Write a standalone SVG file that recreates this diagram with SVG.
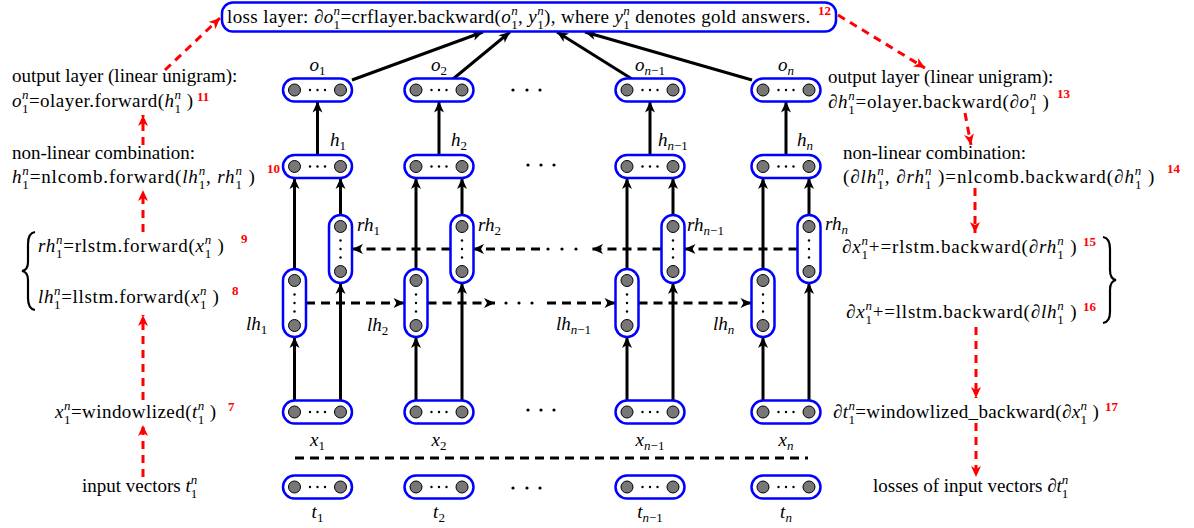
<svg xmlns="http://www.w3.org/2000/svg" xmlns:xlink="http://www.w3.org/1999/xlink" width="1194" height="528" viewBox="0 0 1194 528">
<style>
.box{fill:#fff;stroke:#0000ff;stroke-width:2.5}
.dot{fill:#777;stroke:#000;stroke-width:1}
.md{fill:#000}
.sol{fill:none;stroke:#000;stroke-width:3}
.dsh{fill:none;stroke:#000;stroke-width:3;stroke-dasharray:9 6}
.rd{fill:none;stroke:#f00;stroke-width:3;stroke-dasharray:8 6}
.tx{font-family:"Liberation Serif","Times New Roman",serif;font-size:19px;fill:#000}
.lbl{font-family:"Liberation Serif","Times New Roman",serif;font-size:19px;font-style:italic;fill:#000}
.i{font-style:italic}
.u{font-style:normal}
.s{font-size:13px}
.num{font-family:"Liberation Serif","Times New Roman",serif;font-weight:bold;font-size:13px;fill:#f00}
.br{fill:none;stroke:#000;stroke-width:2.2}
</style>
<defs>
<marker id="ab" markerUnits="userSpaceOnUse" markerWidth="14" markerHeight="12" viewBox="-12 -6 13 12" refX="0" refY="0" orient="auto"><path d="M0,0 L-11,-5 L-8,0 L-11,5 Z" fill="#000"/></marker>
<marker id="ar" markerUnits="userSpaceOnUse" markerWidth="14" markerHeight="12" viewBox="-12 -6 13 12" refX="0" refY="0" orient="auto"><path d="M0,0 L-11,-5 L-8,0 L-11,5 Z" fill="#f00"/></marker>
<g id="hn"><rect class="box" x="-34.5" y="-11.5" width="69" height="23" rx="11.5"/><circle class="dot" cx="-23" cy="0" r="6"/><circle class="dot" cx="23" cy="0" r="6"/><circle class="md" cx="-7.5" cy="0" r="1.2"/><circle class="md" cx="0" cy="0" r="1.2"/><circle class="md" cx="7.5" cy="0" r="1.2"/></g>
<g id="vn"><rect class="box" x="-11.5" y="-34" width="23" height="68" rx="11.5"/><circle class="dot" cx="0" cy="-22.5" r="6"/><circle class="dot" cx="0" cy="22.5" r="6"/><circle class="md" cx="0" cy="-8.5" r="1.2"/><circle class="md" cx="0" cy="0" r="1.2"/><circle class="md" cx="0" cy="8.5" r="1.2"/></g>
</defs>
<rect width="1194" height="528" fill="#fff"/>

<g id="connectors">
<path class="sol" d="M352,80 L483,32" marker-end="url(#ab)"/>
<path class="sol" d="M453,79 L510,32" marker-end="url(#ab)"/>
<path class="sol" d="M632,79 L557,32" marker-end="url(#ab)"/>
<path class="sol" d="M752,80 L585,32" marker-end="url(#ab)"/>
<path class="sol" d="M317.5,155 L317.5,101.5" marker-end="url(#ab)"/>
<path class="sol" d="M439,155 L439,101.5" marker-end="url(#ab)"/>
<path class="sol" d="M650,155 L650,101.5" marker-end="url(#ab)"/>
<path class="sol" d="M786,155 L786,101.5" marker-end="url(#ab)"/>
<path class="sol" d="M294.5,269 L294.5,178" marker-end="url(#ab)"/>
<path class="sol" d="M340.5,215 L340.5,178" marker-end="url(#ab)"/>
<path class="sol" d="M416,269 L416,178" marker-end="url(#ab)"/>
<path class="sol" d="M462,215 L462,178" marker-end="url(#ab)"/>
<path class="sol" d="M627,269 L627,178" marker-end="url(#ab)"/>
<path class="sol" d="M673,215 L673,178" marker-end="url(#ab)"/>
<path class="sol" d="M763,269 L763,178" marker-end="url(#ab)"/>
<path class="sol" d="M809,215 L809,178" marker-end="url(#ab)"/>
<path class="sol" d="M294.5,400.5 L294.5,337" marker-end="url(#ab)"/>
<path class="sol" d="M340.5,400.5 L340.5,283" marker-end="url(#ab)"/>
<path class="sol" d="M416,400.5 L416,337" marker-end="url(#ab)"/>
<path class="sol" d="M462,400.5 L462,283" marker-end="url(#ab)"/>
<path class="sol" d="M627,400.5 L627,337" marker-end="url(#ab)"/>
<path class="sol" d="M673,400.5 L673,283" marker-end="url(#ab)"/>
<path class="sol" d="M763,400.5 L763,337" marker-end="url(#ab)"/>
<path class="sol" d="M809,400.5 L809,283" marker-end="url(#ab)"/>
<path class="dsh" d="M450.5,249 L352,249" marker-end="url(#ab)"/>
<path class="dsh" d="M540,249 L473,249" marker-end="url(#ab)"/>
<path class="dsh" d="M661.5,249 L592,249" marker-end="url(#ab)"/>
<path class="dsh" d="M797.5,249 L684.5,249" marker-end="url(#ab)"/>
<circle class="md" cx="548" cy="249" r="1.6"/><circle class="md" cx="562" cy="249" r="1.6"/><circle class="md" cx="576" cy="249" r="1.6"/>
<path class="dsh" d="M306,303 L404.5,303" marker-end="url(#ab)"/>
<path class="dsh" d="M427.5,303 L495,303" marker-end="url(#ab)"/>
<path class="dsh" d="M547,303 L615.5,303" marker-end="url(#ab)"/>
<path class="dsh" d="M638.5,303 L751.5,303" marker-end="url(#ab)"/>
<circle class="md" cx="506" cy="303" r="1.6"/><circle class="md" cx="519" cy="303" r="1.6"/><circle class="md" cx="532" cy="303" r="1.6"/>
<path class="dsh" d="M295,458 L808,458"/>
<path class="rd" d="M143,477 L143,425" marker-end="url(#ar)"/>
<path class="rd" d="M143,400 L143,315" marker-end="url(#ar)"/>
<path class="rd" d="M143,232 L143,190" marker-end="url(#ar)"/>
<path class="rd" d="M143,145 L143,115" marker-end="url(#ar)"/>
<path class="rd" d="M165,70 L220,18" marker-end="url(#ar)"/>
<path class="rd" d="M838,15 L925,68" marker-end="url(#ar)"/>
<path class="rd" d="M965,113 L971,145" marker-end="url(#ar)"/>
<path class="rd" d="M975,188 L975,233" marker-end="url(#ar)"/>
<path class="rd" d="M976,327 L976,398" marker-end="url(#ar)"/>
<path class="rd" d="M976,423 L976,477" marker-end="url(#ar)"/>
</g>

<g id="loss">
<rect class="box" x="222" y="2.5" width="614" height="29" rx="11"/>
<text class="tx" x="227" y="23" style="letter-spacing:0.38px">loss layer: <tspan class="i">∂o</tspan><tspan class="s" dy="5.5">1</tspan><tspan class="s i" dx="-6.9" dy="-13.5">n</tspan><tspan dy="8">=crflayer.backward(</tspan><tspan class="i">o</tspan><tspan class="s" dy="5.5">1</tspan><tspan class="s i" dx="-6.9" dy="-13.5">n</tspan><tspan dy="8">, </tspan><tspan class="i">y</tspan><tspan class="s" dy="5.5">1</tspan><tspan class="s i" dx="-6.9" dy="-13.5">n</tspan><tspan dy="8">), where </tspan><tspan class="i">y</tspan><tspan class="s" dy="5.5">1</tspan><tspan class="s i" dx="-6.9" dy="-13.5">n</tspan><tspan dy="8"> denotes gold answers.</tspan></text>
<text class="num" x="818" y="15">12</text>
</g>

<g id="row-o">
<g id="o1"><use xlink:href="#hn" href="#hn" x="317.5" y="90"/><text class="lbl" x="317.5" y="71" text-anchor="middle">o<tspan class="s u" dy="4">1</tspan></text></g>
<g id="o2"><use xlink:href="#hn" href="#hn" x="439" y="90"/><text class="lbl" x="439" y="71" text-anchor="middle">o<tspan class="s u" dy="4">2</tspan></text></g>
<g id="on1"><use xlink:href="#hn" href="#hn" x="650" y="90"/><text class="lbl" x="650" y="71" text-anchor="middle">o<tspan class="s" dy="4">n</tspan><tspan class="s u">−1</tspan></text></g>
<g id="on"><use xlink:href="#hn" href="#hn" x="786" y="90"/><text class="lbl" x="786" y="71" text-anchor="middle">o<tspan class="s" dy="4">n</tspan></text></g>
<circle class="md" cx="513" cy="90" r="1.6"/><circle class="md" cx="527" cy="90" r="1.6"/><circle class="md" cx="540" cy="90" r="1.6"/>
</g>

<g id="row-h">
<g id="h1"><use xlink:href="#hn" href="#hn" x="317.5" y="166.5"/><text class="lbl" x="330" y="146">h<tspan class="s u" dy="4">1</tspan></text></g>
<g id="h2"><use xlink:href="#hn" href="#hn" x="439" y="166.5"/><text class="lbl" x="451" y="146">h<tspan class="s u" dy="4">2</tspan></text></g>
<g id="hn1"><use xlink:href="#hn" href="#hn" x="650" y="166.5"/><text class="lbl" x="658" y="146">h<tspan class="s" dy="4">n</tspan><tspan class="s u">−1</tspan></text></g>
<g id="hnn"><use xlink:href="#hn" href="#hn" x="786" y="166.5"/><text class="lbl" x="797" y="146">h<tspan class="s" dy="4">n</tspan></text></g>
<circle class="md" cx="528" cy="165" r="1.6"/><circle class="md" cx="541" cy="165" r="1.6"/><circle class="md" cx="554" cy="165" r="1.6"/>
</g>

<g id="row-rh">
<g id="rh1"><use xlink:href="#vn" href="#vn" x="340.5" y="249"/><text class="lbl" x="357" y="231">rh<tspan class="s u" dy="4">1</tspan></text></g>
<g id="rh2"><use xlink:href="#vn" href="#vn" x="462" y="249"/><text class="lbl" x="478" y="231">rh<tspan class="s u" dy="4">2</tspan></text></g>
<g id="rhn1"><use xlink:href="#vn" href="#vn" x="673" y="249"/><text class="lbl" x="687" y="231">rh<tspan class="s" dy="4">n</tspan><tspan class="s u">−1</tspan></text></g>
<g id="rhn"><use xlink:href="#vn" href="#vn" x="809" y="249"/><text class="lbl" x="825" y="230">rh<tspan class="s" dy="4">n</tspan></text></g>
</g>

<g id="row-lh">
<g id="lh1"><use xlink:href="#vn" href="#vn" x="294.5" y="303"/><text class="lbl" x="246" y="330">lh<tspan class="s u" dy="4">1</tspan></text></g>
<g id="lh2"><use xlink:href="#vn" href="#vn" x="416" y="303"/><text class="lbl" x="367" y="331">lh<tspan class="s u" dy="4">2</tspan></text></g>
<g id="lhn1"><use xlink:href="#vn" href="#vn" x="627" y="303"/><text class="lbl" x="556" y="330">lh<tspan class="s" dy="4">n</tspan><tspan class="s u">−1</tspan></text></g>
<g id="lhn"><use xlink:href="#vn" href="#vn" x="763" y="303"/><text class="lbl" x="713" y="330">lh<tspan class="s" dy="4">n</tspan></text></g>
</g>

<g id="row-x">
<g id="x1"><use xlink:href="#hn" href="#hn" x="317.5" y="412"/><text class="lbl" x="317.5" y="446" text-anchor="middle">x<tspan class="s u" dy="4">1</tspan></text></g>
<g id="x2"><use xlink:href="#hn" href="#hn" x="439" y="412"/><text class="lbl" x="439" y="446" text-anchor="middle">x<tspan class="s u" dy="4">2</tspan></text></g>
<g id="xn1"><use xlink:href="#hn" href="#hn" x="650" y="412"/><text class="lbl" x="650" y="446" text-anchor="middle">x<tspan class="s" dy="4">n</tspan><tspan class="s u">−1</tspan></text></g>
<g id="xn"><use xlink:href="#hn" href="#hn" x="786" y="412"/><text class="lbl" x="786" y="446" text-anchor="middle">x<tspan class="s" dy="4">n</tspan></text></g>
<circle class="md" cx="528" cy="410" r="1.6"/><circle class="md" cx="541" cy="410" r="1.6"/><circle class="md" cx="554" cy="410" r="1.6"/>
</g>

<g id="row-t">
<g id="t1"><use xlink:href="#hn" href="#hn" x="317.5" y="487"/><text class="lbl" x="317.5" y="518" text-anchor="middle">t<tspan class="s u" dy="4">1</tspan></text></g>
<g id="t2"><use xlink:href="#hn" href="#hn" x="439" y="487"/><text class="lbl" x="439" y="518" text-anchor="middle">t<tspan class="s u" dy="4">2</tspan></text></g>
<g id="tn1"><use xlink:href="#hn" href="#hn" x="650" y="487"/><text class="lbl" x="650" y="518" text-anchor="middle">t<tspan class="s" dy="4">n</tspan><tspan class="s u">−1</tspan></text></g>
<g id="tn"><use xlink:href="#hn" href="#hn" x="786" y="487"/><text class="lbl" x="786" y="518" text-anchor="middle">t<tspan class="s" dy="4">n</tspan></text></g>
<circle class="md" cx="513" cy="488" r="1.6"/><circle class="md" cx="527" cy="488" r="1.6"/><circle class="md" cx="540" cy="488" r="1.6"/>
</g>

<g id="forward-steps">
<text class="tx" x="12" y="82">output layer (linear unigram):</text>
<text class="tx" x="12" y="107" style="letter-spacing:0.45px"><tspan class="i">o</tspan><tspan class="s" dy="5.5">1</tspan><tspan class="s i" dx="-6.9" dy="-13.5">n</tspan><tspan dy="8">=olayer.forward(</tspan><tspan class="i">h</tspan><tspan class="s" dy="5.5">1</tspan><tspan class="s i" dx="-6.9" dy="-13.5">n</tspan><tspan dy="8"> )</tspan></text>
<text class="num" x="197" y="101">11</text>
<text class="tx" x="12" y="159">non-linear combination:</text>
<text class="tx" x="12" y="183" style="letter-spacing:0.85px"><tspan class="i">h</tspan><tspan class="s" dy="5.5">1</tspan><tspan class="s i" dx="-7.4" dy="-13.5">n</tspan><tspan dy="8">=nlcomb.forward(</tspan><tspan class="i">lh</tspan><tspan class="s" dy="5.5">1</tspan><tspan class="s i" dx="-7.4" dy="-13.5">n</tspan><tspan dy="8">, </tspan><tspan class="i">rh</tspan><tspan class="s" dy="5.5">1</tspan><tspan class="s i" dx="-7.4" dy="-13.5">n</tspan><tspan dy="8"> )</tspan></text>
<text class="num" x="267" y="173">10</text>
<path class="br" d="M35,232 Q28,233 28,244 L28,262 Q28,270 22,271 Q28,272 28,280 L28,298 Q28,309 35,310"/>
<text class="tx" x="38" y="252" style="letter-spacing:0.75px"><tspan class="i">rh</tspan><tspan class="s" dy="5.5">1</tspan><tspan class="s i" dx="-7.3" dy="-13.5">n</tspan><tspan dy="8">=rlstm.forward(</tspan><tspan class="i">x</tspan><tspan class="s" dy="5.5">1</tspan><tspan class="s i" dx="-7.3" dy="-13.5">n</tspan><tspan dy="8"> )</tspan></text>
<text class="num" x="241" y="243">9</text>
<text class="tx" x="38" y="303" style="letter-spacing:0.65px"><tspan class="i">lh</tspan><tspan class="s" dy="5.5">1</tspan><tspan class="s i" dx="-7.2" dy="-13.5">n</tspan><tspan dy="8">=llstm.forward(</tspan><tspan class="i">x</tspan><tspan class="s" dy="5.5">1</tspan><tspan class="s i" dx="-7.2" dy="-13.5">n</tspan><tspan dy="8"> )</tspan></text>
<text class="num" x="232" y="295">8</text>
<text class="tx" x="55" y="418" style="letter-spacing:0.45px"><tspan class="i">x</tspan><tspan class="s" dy="5.5">1</tspan><tspan class="s i" dx="-6.9" dy="-13.5">n</tspan><tspan dy="8">=windowlized(</tspan><tspan class="i">t</tspan><tspan class="s" dy="5.5">1</tspan><tspan class="s i" dx="-6.9" dy="-13.5">n</tspan><tspan dy="8"> )</tspan></text>
<text class="num" x="228" y="411">7</text>
<text class="tx" x="82" y="492">input vectors <tspan class="i">t</tspan><tspan class="s" dy="5.5">1</tspan><tspan class="s i" dx="-6.5" dy="-13.5">n</tspan></text>
</g>

<g id="backward-steps">
<text class="tx" x="828" y="83">output layer (linear unigram):</text>
<text class="tx" x="828" y="108" style="letter-spacing:0.7px"><tspan class="i">∂h</tspan><tspan class="s" dy="5.5">1</tspan><tspan class="s i" dx="-7.2" dy="-13.5">n</tspan><tspan dy="8">=olayer.backward(</tspan><tspan class="i">∂o</tspan><tspan class="s" dy="5.5">1</tspan><tspan class="s i" dx="-7.2" dy="-13.5">n</tspan><tspan dy="8"> )</tspan></text>
<text class="num" x="1057" y="98">13</text>
<text class="tx" x="843" y="159">non-linear combination:</text>
<text class="tx" x="843" y="183" style="letter-spacing:0.95px">(<tspan class="i">∂lh</tspan><tspan class="s" dy="5.5">1</tspan><tspan class="s i" dx="-7.5" dy="-13.5">n</tspan><tspan dy="8">, </tspan><tspan class="i">∂rh</tspan><tspan class="s" dy="5.5">1</tspan><tspan class="s i" dx="-7.5" dy="-13.5">n</tspan><tspan dy="8"> )=nlcomb.backward(</tspan><tspan class="i">∂h</tspan><tspan class="s" dy="5.5">1</tspan><tspan class="s i" dx="-7.5" dy="-13.5">n</tspan><tspan dy="8"> )</tspan></text>
<text class="num" x="1167" y="173">14</text>
<text class="tx" x="842" y="253" style="letter-spacing:0.85px"><tspan class="i">∂x</tspan><tspan class="s" dy="5.5">1</tspan><tspan class="s i" dx="-7.4" dy="-13.5">n</tspan><tspan dy="8">+=rlstm.backward(</tspan><tspan class="i">∂rh</tspan><tspan class="s" dy="5.5">1</tspan><tspan class="s i" dx="-7.4" dy="-13.5">n</tspan><tspan dy="8"> )</tspan></text>
<text class="num" x="1083" y="246">15</text>
<text class="tx" x="846" y="318" style="letter-spacing:0.8px"><tspan class="i">∂x</tspan><tspan class="s" dy="5.5">1</tspan><tspan class="s i" dx="-7.3" dy="-13.5">n</tspan><tspan dy="8">+=llstm.backward(</tspan><tspan class="i">∂lh</tspan><tspan class="s" dy="5.5">1</tspan><tspan class="s i" dx="-7.3" dy="-13.5">n</tspan><tspan dy="8"> )</tspan></text>
<text class="num" x="1083" y="311">16</text>
<path class="br" d="M1103,237 Q1110,238 1110,249 L1110,270 Q1110,279 1116,280 Q1110,281 1110,290 L1110,312 Q1110,322 1103,323"/>
<text class="tx" x="833" y="418" style="letter-spacing:0.37px"><tspan class="i">∂t</tspan><tspan class="s" dy="5.5">1</tspan><tspan class="s i" dx="-6.9" dy="-13.5">n</tspan><tspan dy="8">=windowlized_backward(</tspan><tspan class="i">∂x</tspan><tspan class="s" dy="5.5">1</tspan><tspan class="s i" dx="-6.9" dy="-13.5">n</tspan><tspan dy="8"> )</tspan></text>
<text class="num" x="1105" y="411">17</text>
<text class="tx" x="873" y="492">losses of input vectors <tspan class="i">∂t</tspan><tspan class="s" dy="5.5">1</tspan><tspan class="s i" dx="-6.5" dy="-13.5">n</tspan></text>
</g>
</svg>
